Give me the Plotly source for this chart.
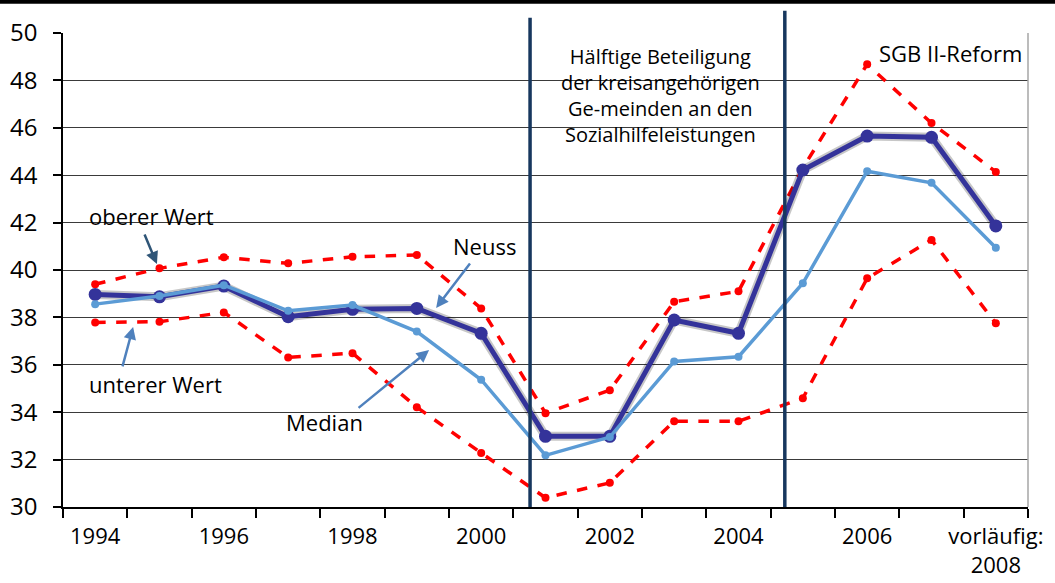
import plotly.graph_objects as go

# Jahre (Kategorien) und Beschriftungen
years = ["1994", "1995", "1996", "1997", "1998", "1999", "2000", "2001",
         "2002", "2003", "2004", "2005", "2006", "2007", "2008"]
tick_labels = ["1994", "1996", "1998", "2000", "2002", "2004", "2006", "vorläufig:<br>2008"]

neuss = [38.97, 38.87, 39.32, 38.03, 38.34, 38.38, 37.33, 32.98,
         32.98, 37.89, 37.33, 44.22, 45.65, 45.6, 41.86]
median = [38.56, 38.9, 39.36, 38.28, 38.52, 37.4, 35.37, 32.18,
          32.95, 36.14, 36.34, 39.44, 44.17, 43.68, 40.94]
oberer = [39.4, 40.07, 40.54, 40.28, 40.56, 40.63, 38.38, 33.96,
          34.93, 38.66, 39.1, 44.3, 48.68, 46.2, 44.14]
unterer = [37.79, 37.82, 38.21, 36.31, 36.49, 34.21, 32.28, 30.39,
           31.02, 33.62, 33.62, 34.59, 39.65, 41.27, 37.75]

box_text = "Hälftige Beteiligung<br>der kreisangehörigen<br>Ge-meinden an den<br>Sozialhilfeleistungen"

x = list(range(len(years)))
RED = "#FF0000"
FONT = "Open Sans"
fig = go.Figure()

fig.add_trace(go.Scatter(x=x, y=oberer, mode="lines+markers", name="oberer Wert",
                         line=dict(color=RED, width=3.5, dash="dash"), marker=dict(size=8, color=RED)))
fig.add_trace(go.Scatter(x=x, y=unterer, mode="lines+markers", name="unterer Wert",
                         line=dict(color=RED, width=3.5, dash="dash"), marker=dict(size=8, color=RED)))
# Schatten fuer Neuss
fig.add_trace(go.Scatter(x=x, y=neuss, mode="lines", hoverinfo="skip",
                         line=dict(color="rgba(0,0,0,0.22)", width=9)))
fig.add_trace(go.Scatter(x=x, y=neuss, mode="lines+markers", name="Neuss",
                         line=dict(color="#34339A", width=5), marker=dict(size=13, color="#34339A")))
fig.add_trace(go.Scatter(x=x, y=median, mode="lines+markers", name="Median",
                         line=dict(color="#5B9BD5", width=3.5), marker=dict(size=8, color="#5B9BD5")))

tick_idx = [0, 2, 4, 6, 8, 10, 12, 14]
fig.update_xaxes(range=[-0.5, 14.5], tickvals=tick_idx, ticktext=tick_labels, ticks="",
                 showgrid=False, zeroline=False, showline=True, linecolor="black", linewidth=1.5,
                 tickfont=dict(family=FONT, size=22, color="black"), ticklabelstandoff=9,
                 automargin=False,
                 minor=dict(tickmode="linear", tick0=-0.5, dtick=1, ticks="outside", ticklen=9,
                            tickcolor="black", tickwidth=1.5, showgrid=False))
fig.update_yaxes(range=[30, 50], dtick=2, showgrid=True, gridcolor="#3a3a3a", gridwidth=1.2,
                 zeroline=False, showline=True, linecolor="black", linewidth=1.5,
                 ticks="outside", ticklen=8, tickcolor="black", tickwidth=1.5, automargin=False,
                 tickfont=dict(family=FONT, size=24, color="black"), ticklabelstandoff=11)

afont = dict(family=FONT, size=22, color="black")
ann = [
    dict(x=0.87, y=42.28, text="oberer Wert", showarrow=False, font=afont),
    dict(x=0.93, y=35.2, text="unterer Wert", showarrow=False, font=afont),
    dict(x=3.56, y=33.59, text="Median", showarrow=False, font=afont),
    dict(x=6.05, y=41.0, text="Neuss", showarrow=False, font=afont),
    dict(x=1.0, xref="paper", xanchor="right", xshift=-4, y=49.16, text="SGB II-Reform",
         showarrow=False, font=afont),
    dict(x=8.78, y=47.35, text=box_text, showarrow=False,
         font=dict(family=FONT, size=20, color="black")),
    # Pfeile
    dict(x=0.96, y=40.25, text="", showarrow=True, ax=-13, ay=-31, arrowcolor="#2F5577",
         arrowwidth=2.5, arrowhead=2, arrowsize=1),
    dict(x=0.59, y=37.6, text="", showarrow=True, ax=-11, ay=41, arrowcolor="#4F81BD",
         arrowwidth=2.5, arrowhead=2, arrowsize=1),
    dict(x=5.19, y=36.62, text="", showarrow=True, ax=-72, ay=59, arrowcolor="#4F81BD",
         arrowwidth=2.5, arrowhead=2, arrowsize=1),
    dict(x=5.3, y=38.4, text="", showarrow=True, ax=35, ay=-46, arrowcolor="#4F81BD",
         arrowwidth=2.5, arrowhead=2, arrowsize=1),
]

shapes = [
    dict(type="line", xref="x", yref="paper", x0=6.76, x1=6.76, y0=0, y1=1.032,
         line=dict(color="#17375E", width=3.5)),
    dict(type="line", xref="x", yref="paper", x0=10.72, x1=10.72, y0=0, y1=1.047,
         line=dict(color="#17375E", width=3.5)),
    dict(type="line", xref="paper", yref="paper", x0=1, x1=1, y0=0, y1=1,
         line=dict(color="#A6A6A6", width=1.5)),
    dict(type="line", xref="paper", yref="paper", x0=-0.07, x1=1.03, y0=1.066, y1=1.066,
         line=dict(color="black", width=4)),
]

fig.update_layout(width=1055, height=583, margin=dict(l=63, r=27, t=33, b=76),
                  plot_bgcolor="white", paper_bgcolor="white", showlegend=False,
                  annotations=ann, shapes=shapes)

# Seitenrand des Browsers entfernen, damit die Grafik bei (0,0) beginnt
fig.write_html("out.html", config={"displayModeBar": False},
               post_script="document.body.style.margin='0';")
